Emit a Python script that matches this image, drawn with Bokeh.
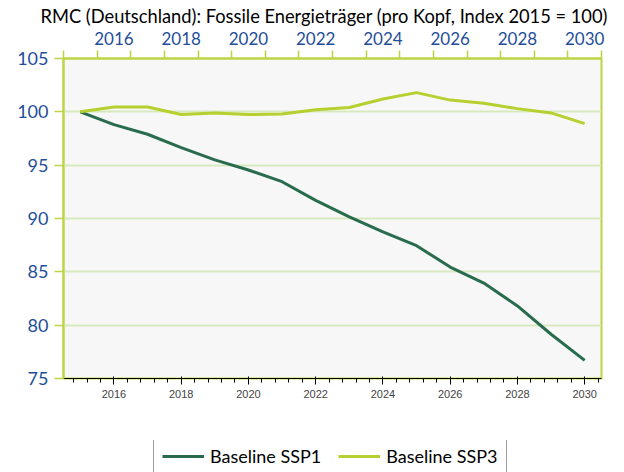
from bokeh.plotting import figure
from bokeh.layouts import column
from bokeh.models import (Range1d, FixedTicker, Legend, LegendItem, Title,
                          LinearAxis)
from bokeh.embed import file_html
from bokeh.resources import INLINE

# ---- data ----
years = [2015, 2016, 2017, 2018, 2019, 2020, 2021, 2022, 2023,
         2024, 2025, 2026, 2027, 2028, 2029, 2030]
ssp1 = [100.0, 98.8, 97.9, 96.65, 95.5, 94.55, 93.45, 91.7, 90.15,
        88.75, 87.45, 85.45, 83.95, 81.8, 79.15, 76.7]
ssp3 = [100.0, 100.45, 100.45, 99.75, 99.9, 99.75, 99.8, 100.2, 100.4,
        101.2, 101.8, 101.1, 100.8, 100.3, 99.9, 98.9]
series_names = ["Baseline SSP1", "Baseline SSP3"]
y_ticks = [75, 80, 85, 90, 95, 100, 105]
x_label_years = years[1::2]
title_text = "RMC (Deutschland): Fossile Energieträger (pro Kopf, Index 2015 = 100)"

DARK = "#296C4D"
LIGHT = "#B7CF2F"
AXIS = "#BDD445"
GRID = "#D8EABD"
BLUE = "#1F4E9A"
FONT = "Lato"

p = figure(width=624, height=440, output_backend="svg", toolbar_location=None,
           x_range=Range1d(years[0] - 0.5, years[-1] + 0.5),
           y_range=Range1d(y_ticks[0], y_ticks[-1]),
           title_location=None,
           min_border_left=63, min_border_right=23, min_border_top=55,
           min_border_bottom=62)
p.background_fill_color = "#F7F7F7"
p.border_fill_color = "white"
p.outline_line_color = AXIS
p.outline_line_width = 2

r1 = p.line(years, ssp1, line_color=DARK, line_width=3)
r3 = p.line(years, ssp3, line_color=LIGHT, line_width=3)

# spacer (tick-less, line-less axis) between frame and title
spacer = LinearAxis(ticker=FixedTicker(ticks=[], minor_ticks=[]),
                    axis_line_color=None, major_tick_line_color=None,
                    minor_tick_line_color=None, major_tick_out=25,
                    major_tick_in=0, minor_tick_out=0, minor_tick_in=0,
                    major_label_standoff=0, axis_label_standoff=0)
p.add_layout(spacer, "above")

# title
title = Title(text=title_text, text_font=FONT, text_font_size="18.3px",
              text_font_style="normal", text_color="black",
              align="left", offset=-23, standoff=4)
p.add_layout(title, "above")

# x axis
xa = p.xaxis[0]
xa.ticker = FixedTicker(ticks=x_label_years,
                        minor_ticks=[y - 0.5 for y in years] + [years[-1] + 0.5])
xa.major_tick_line_color = None
xa.major_tick_out = 8
xa.major_tick_in = 0
xa.minor_tick_line_color = AXIS
xa.minor_tick_line_width = 1.5
xa.minor_tick_out = 8
xa.minor_tick_in = 0
xa.axis_line_color = AXIS
xa.axis_line_width = 2
xa.major_label_standoff = 6
xa.major_label_text_color = BLUE
xa.major_label_text_font = FONT
xa.major_label_text_font_size = "17px"

# y axis
ya = p.yaxis[0]
ya.ticker = FixedTicker(ticks=y_ticks, minor_ticks=[])
ya.major_tick_line_color = AXIS
ya.major_tick_line_width = 1.5
ya.major_tick_out = 9
ya.major_tick_in = 0
ya.minor_tick_line_color = None
ya.axis_line_color = AXIS
ya.axis_line_width = 2
ya.major_label_standoff = 6
ya.major_label_text_color = BLUE
ya.major_label_text_font = FONT
ya.major_label_text_font_size = "18px"

p.xgrid.grid_line_color = None
p.ygrid.grid_line_color = GRID
p.ygrid.grid_line_width = 2

# legend strip below the chart (its lines lie outside its own ranges)
lf = figure(width=624, height=32, output_backend="svg", toolbar_location=None,
            x_axis_type=None, y_axis_type=None,
            x_range=Range1d(0, 1), y_range=Range1d(0, 1),
            min_border=0)
lf.outline_line_color = None
lf.background_fill_color = "white"
lf.border_fill_color = "white"
lf.xgrid.grid_line_color = None
lf.ygrid.grid_line_color = None
l1 = lf.line(years, ssp1, line_color=DARK, line_width=3)
l3 = lf.line(years, ssp3, line_color=LIGHT, line_width=3)

legend = Legend(items=[LegendItem(label=series_names[0], renderers=[l1]),
                       LegendItem(label=series_names[1], renderers=[l3])],
                orientation="horizontal", location=(90, -4))
legend.label_text_font = FONT
legend.label_text_font_size = "18px"
legend.label_text_color = "black"
legend.glyph_width = 42
legend.glyph_height = 18
legend.label_standoff = 6
legend.spacing = 17
legend.padding = 8
legend.margin = 0
legend.border_line_color = "#404040"
legend.border_line_width = 1
legend.background_fill_color = "white"
legend.background_fill_alpha = 1
lf.add_layout(legend, "center")

open("out.html", "w").write(file_html(column(p, lf, spacing=0), INLINE))
